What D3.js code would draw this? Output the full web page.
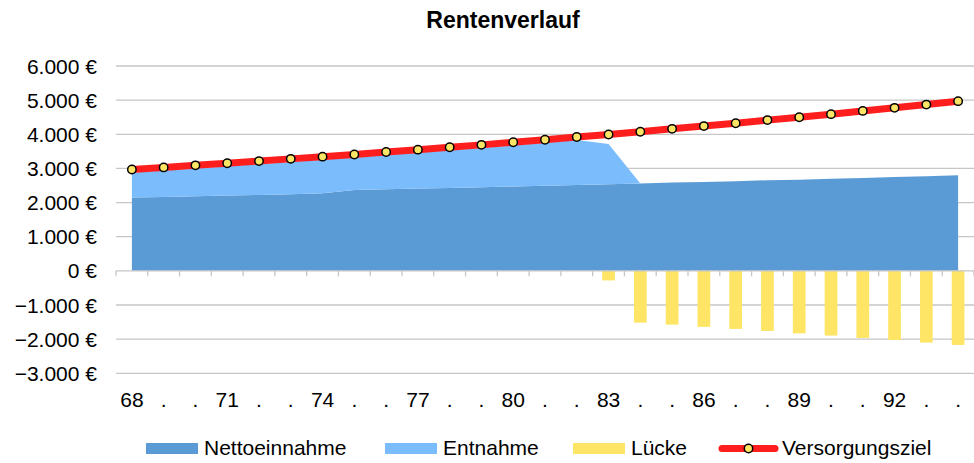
<!DOCTYPE html>
<html lang="de">
<head>
<meta charset="utf-8" />
<title>Rentenverlauf</title>
<style>
html,body{margin:0;background:#fff}
svg{display:block;font-family:"Liberation Sans",Arial,sans-serif}
</style>
<script src="https://cdn.jsdelivr.net/npm/d3@7/dist/d3.min.js"></script>
</head>
<body>
<div id="chart"></div>
<script>
/* ----------------------------- data ---------------------------------- */
const ages = d3.range(68, 95);
const xLabels = ["68",".",".","71",".",".","74",".",".","77",".",".","80",".",".",
                 "83",".",".","86",".",".","89",".",".","92",".","."];
const netto    = [2150,2165,2185,2205,2225,2245,2275,2365,2390,2410,2430,2450,2470,2495,
                  2515,2535,2560,2585,2600,2625,2655,2670,2695,2720,2750,2770,2800];
const entnahme = [720,775,815,855,900,945,980,955,1000,1050,1100,1150,1205,1255,
                  1315,1180,0,0,0,0,0,0,0,0,0,0,0];
const luecke   = [0,0,0,0,0,0,0,0,0,0,0,0,0,0,
                  0,-280,-1515,-1575,-1640,-1700,-1760,-1830,-1895,-1965,-2025,-2100,-2170];
const ziel     = [2970,3030,3090,3150,3215,3280,3345,3410,3480,3550,3620,3690,3765,3840,
                  3920,3995,4075,4160,4240,4325,4415,4500,4590,4685,4775,4870,4970];
const yTicks   = [-3000,-2000,-1000,0,1000,2000,3000,4000,5000,6000];

const colors = {netto:"#5b9bd5", entnahme:"#7bbcfd", luecke:"#ffe566", ziel:"#ff1e1e", grid:"#c6c6c6"};

/* ----------------------------- setup --------------------------------- */
const W = 974, H = 463;
const svg = d3.select("#chart").append("svg").attr("width", W).attr("height", H);

const x = d3.scaleBand().domain(ages).range([116, 974]).padding(0);
const cx = a => x(a) + x.bandwidth() / 2;
const y = d3.scaleLinear().domain([-3000, 6000]).range([373.3, 66]);

const rows = ages.map((a, i) => ({age:a, netto:netto[i], entnahme:entnahme[i], luecke:luecke[i], ziel:ziel[i]}));
const fmt = v => d3.format(",")(v).replace(/,/g, ".") + " €";

// title
svg.append("text").attr("x", 503).attr("y", 28).attr("text-anchor", "middle")
   .attr("font-size", 23).attr("font-weight", "bold").text("Rentenverlauf");

// gridlines + y labels
svg.append("g").selectAll("line").data(yTicks.filter(t => t !== 0)).join("line")
   .attr("x1", 116).attr("x2", 974).attr("y1", d => y(d)).attr("y2", d => y(d))
   .attr("stroke", colors.grid).attr("stroke-width", 1.3);
svg.append("g").selectAll("text").data(yTicks).join("text")
   .attr("x", 97).attr("y", d => y(d) + 7.5).attr("text-anchor", "end")
   .attr("font-size", 21).attr("fill", "#000").text(fmt);

/* ---------------------------- areas ---------------------------------- */
const stack = d3.stack().keys(["netto", "entnahme"])(rows);
const area = d3.area().x(d => cx(d.data.age)).y0(d => y(d[0])).y1(d => y(d[1]));
svg.append("g").selectAll("path").data(stack).join("path")
   .attr("d", area).attr("fill", (d, i) => i === 0 ? colors.netto : colors.entnahme);

/* ----------------------------- bars ---------------------------------- */
const bw = x.bandwidth() * 0.4;
svg.append("g").selectAll("rect").data(rows.filter(r => r.luecke < 0)).join("rect")
   .attr("x", d => cx(d.age) - bw / 2).attr("width", bw)
   .attr("y", y(0)).attr("height", d => y(d.luecke) - y(0))
   .attr("fill", colors.luecke);

/* ---------------------------- x axis --------------------------------- */
svg.append("line").attr("x1", 116).attr("x2", 974).attr("y1", y(0)).attr("y2", y(0))
   .attr("stroke", colors.grid).attr("stroke-width", 1.3);
svg.append("g").selectAll("line").data(ages.concat([95])).join("line")
   .attr("x1", d => d === 95 ? 974 : x(d)).attr("x2", d => d === 95 ? 974 : x(d))
   .attr("y1", y(0)).attr("y2", y(0) + 5.5)
   .attr("stroke", colors.grid).attr("stroke-width", 1.3);
svg.append("g").selectAll("text").data(ages).join("text")
   .attr("x", d => cx(d)).attr("y", 406.5).attr("text-anchor", "middle")
   .attr("font-size", 21).text((d, i) => xLabels[i]);

/* ------------------------- target line ------------------------------- */
svg.append("path").datum(rows)
   .attr("d", d3.line().x(d => cx(d.age)).y(d => y(d.ziel)))
   .attr("fill", "none").attr("stroke", colors.ziel).attr("stroke-width", 7);
svg.append("g").selectAll("circle").data(rows).join("circle")
   .attr("cx", d => cx(d.age)).attr("cy", d => y(d.ziel)).attr("r", 4.2)
   .attr("fill", colors.luecke).attr("stroke", "#000").attr("stroke-width", 1.5);

/* ---------------------------- legend --------------------------------- */
const leg = svg.append("g");
[["Nettoeinnahme", colors.netto, 146], ["Entnahme", colors.entnahme, 385], ["Lücke", colors.luecke, 573]]
  .forEach(([name, c, lx]) => {
    leg.append("rect").attr("x", lx).attr("y", 443).attr("width", 52).attr("height", 11).attr("fill", c);
    leg.append("text").attr("x", lx + 58).attr("y", 455).attr("font-size", 21).text(name);
  });
leg.append("line").attr("x1", 722).attr("x2", 775).attr("y1", 448.5).attr("y2", 448.5)
   .attr("stroke", colors.ziel).attr("stroke-width", 7).attr("stroke-linecap", "round");
leg.append("circle").attr("cx", 748.5).attr("cy", 448.5).attr("r", 4.2)
   .attr("fill", colors.luecke).attr("stroke", "#000").attr("stroke-width", 1.5);
leg.append("text").attr("x", 782).attr("y", 455).attr("font-size", 21).text("Versorgungsziel");
</script>
</body>
</html>
